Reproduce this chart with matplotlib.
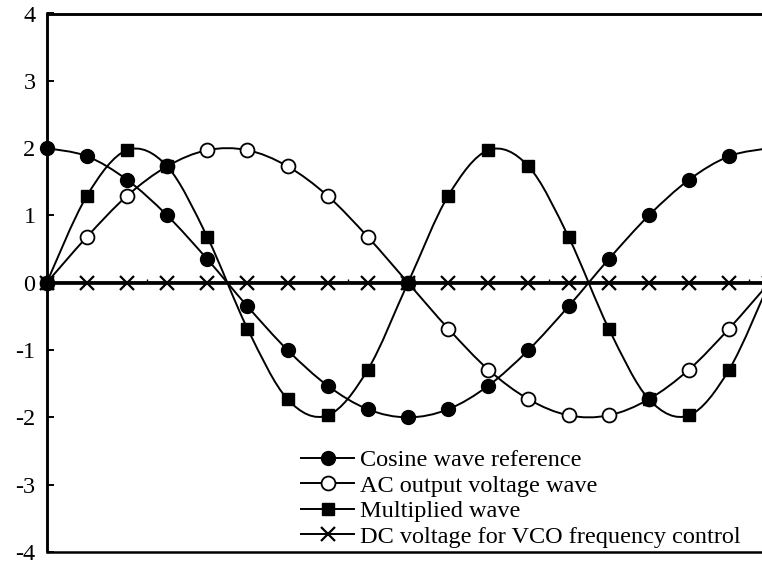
import numpy as np
import matplotlib
matplotlib.use("Agg")
import matplotlib.pyplot as plt
from matplotlib.path import Path
from matplotlib.patches import PathPatch, Rectangle
from matplotlib.lines import Line2D

plt.rcParams['font.family'] = ['Liberation Serif', 'DejaVu Serif']
plt.rcParams['axes.unicode_minus'] = False

# phase in degrees, one point every 20 degrees
phase = [0, 20, 40, 60, 80, 100, 120, 140, 160, 180, 200, 220, 240, 260, 280, 300, 320, 340, 360]
cosine_ref = [2.0, 1.88, 1.53, 1.0, 0.35, -0.35, -1.0, -1.53, -1.88, -2.0, -1.88, -1.53, -1.0, -0.35, 0.35, 1.0, 1.53, 1.88, 2.0]
ac_out = [0.0, 0.68, 1.29, 1.73, 1.97, 1.97, 1.73, 1.29, 0.68, 0.0, -0.68, -1.29, -1.73, -1.97, -1.97, -1.73, -1.29, -0.68, 0.0]
multiplied = [0.0, 1.29, 1.97, 1.73, 0.68, -0.68, -1.73, -1.97, -1.29, 0.0, 1.29, 1.97, 1.73, 0.68, -0.68, -1.73, -1.97, -1.29, 0.0]
dc_vco = [0.0] * 19

labels = ['Cosine wave reference', 'AC output voltage wave',
          'Multiplied wave', 'DC voltage for VCO frequency control']
yticks = [-4, -3, -2, -1, 0, 1, 2, 3, 4]
xticks = [50, 150, 250, 350]


def smooth_path(x, y):
    # excel-like smoothed line: catmull-rom segments as cubic beziers
    x = np.asarray(x, float)
    y = np.asarray(y, float)
    px = np.concatenate([[x[0]], x, [x[-1]]])
    py = np.concatenate([[y[0]], y, [y[-1]]])
    verts = [(x[0], y[0])]
    codes = [Path.MOVETO]
    for i in range(1, len(px) - 2):
        c1 = (px[i] + (px[i + 1] - px[i - 1]) / 6, py[i] + (py[i + 1] - py[i - 1]) / 6)
        c2 = (px[i + 1] - (px[i + 2] - px[i]) / 6, py[i + 1] - (py[i + 2] - py[i]) / 6)
        verts += [c1, c2, (px[i + 1], py[i + 1])]
        codes += [Path.CURVE4] * 3
    return Path(verts, codes)


fig = plt.figure(figsize=(7.62, 5.63), dpi=100)
ax = fig.add_axes([46.7 / 762, 1 - 552 / 563, (769.3 - 46.7) / 762, (552 - 13.5) / 563])

lw = 1.4
series = [
    (dc_vco, dict(marker='x', ms=9.5, mew=1.6, mfc='k', mec='k'), 2.4),
    (ac_out, dict(marker='o', ms=10, mew=1.3, mfc='white', mec='k'), lw),
    (cosine_ref, dict(marker='o', ms=10, mew=1.0, mfc='k', mec='k'), lw),
    (multiplied, dict(marker='s', ms=8.3, mew=1.0, mfc='k', mec='k'), lw),
]
z = 3
for vals, mk, w in series:
    ax.add_patch(PathPatch(smooth_path(phase, vals), fill=False, ec='k', lw=w, zorder=z))
    ax.plot(phase, vals, ls='none', zorder=z + 0.5, clip_on=False, **mk)
    z += 1

ax.set_xlim(0, 360)
ax.set_ylim(-4, 4)
ax.set_yticks(yticks)
ax.set_yticklabels([str(v) for v in yticks])
ax.set_xticks(xticks)
ax.set_xticklabels([])
ax.tick_params(axis='y', direction='in', length=5, width=1.4, labelsize=17.5, pad=8)
ax.tick_params(axis='x', direction='in', length=3, width=1.0)

for s in ['top', 'right', 'left']:
    ax.spines[s].set_linewidth(1.8)
ax.spines['bottom'].set_position(('data', 0))
ax.spines['bottom'].set_linewidth(1.8)
ax.add_patch(Rectangle((0, 0), 1, 1, transform=ax.transAxes, fill=False,
                       ec='k', lw=1.8, clip_on=False, zorder=10))

handles = [
    Line2D([], [], color='k', lw=lw, marker='o', ms=10, mfc='k', mec='k'),
    Line2D([], [], color='k', lw=lw, marker='o', ms=10, mfc='white', mec='k', mew=1.3),
    Line2D([], [], color='k', lw=lw, marker='s', ms=8.3, mfc='k', mec='k'),
    Line2D([], [], color='k', lw=lw, marker='x', ms=9.5, mew=1.6, mec='k'),
]
leg = ax.legend(handles, labels, loc='lower left', bbox_to_anchor=(301 / 762, 1 - 548 / 563),
                bbox_transform=fig.transFigure, frameon=False, fontsize=17.5,
                handlelength=2.2, handletextpad=0.22, labelspacing=0.15,
                borderpad=0, borderaxespad=0)

fig.savefig('out.png', dpi=100)
